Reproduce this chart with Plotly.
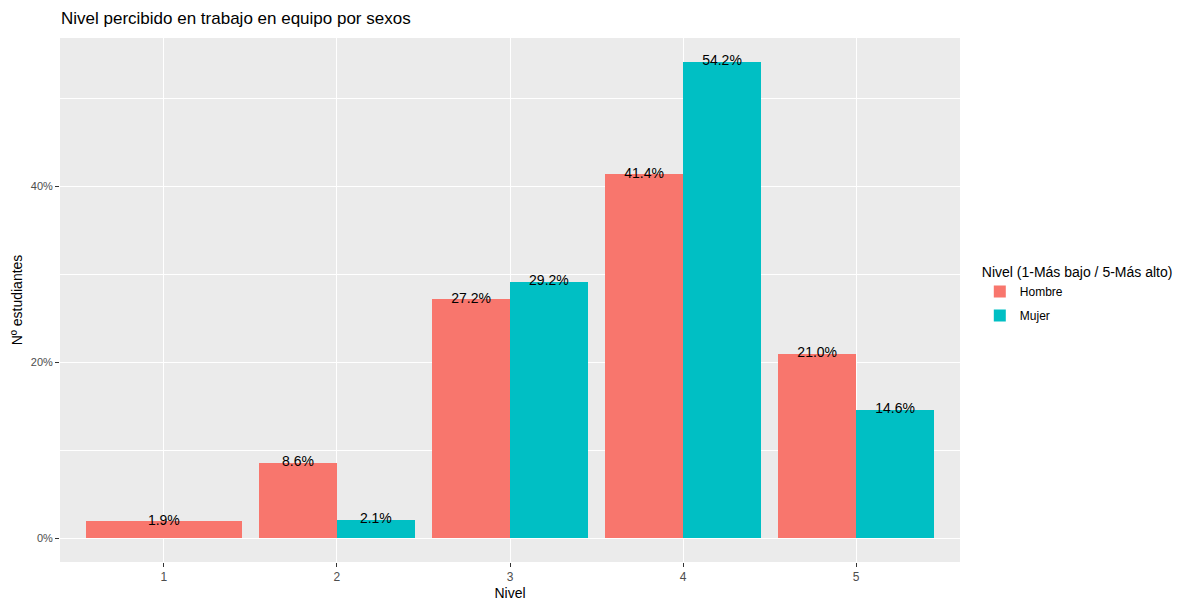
import plotly.graph_objects as go

niveles = [1, 2, 3, 4, 5]
hombre = [1.9, 8.6, 27.2, 41.4, 21.0]
mujer = [None, 2.1, 29.2, 54.2, 14.6]
tick_labels = ["1", "2", "3", "4", "5"]
y_ticks = [0, 20, 40]
y_tick_labels = ["0%", "20%", "40%"]

col_h = "#F8766D"
col_m = "#00BFC4"
FONT = "Liberation Sans, Arial, sans-serif"

# the page body has an 8px default margin; size the figure to fit the window
W, H = 1192, 596

# dodge positions (ggplot-style: single bar occupies full width)
def positions(own, other, side):
    xs, ws = [], []
    for n, a, b in zip(niveles, own, other):
        if b is None:
            xs.append(n); ws.append(0.9)
        else:
            xs.append(n + side * 0.225); ws.append(0.45)
    return xs, ws

xh, wh = positions(hombre, mujer, -1)
xm, wm = positions(mujer, hombre, 1)

fig = go.Figure()
fig.add_trace(go.Bar(x=xh, y=hombre, width=wh, name="Hombre", legendgroup="h",
                     marker=dict(color=col_h, line=dict(width=0))))
fig.add_trace(go.Bar(x=xm, y=mujer, width=wm, name="Mujer", legendgroup="m",
                     marker=dict(color=col_m, line=dict(width=0))))

for xs, vals in ((xh, hombre), (xm, mujer)):
    px = [x for x, v in zip(xs, vals) if v is not None]
    pv = [v for v in vals if v is not None]
    fig.add_trace(go.Scatter(x=px, y=pv, mode="text",
                             text=[f"{v:.1f}%" for v in pv],
                             textposition="middle center",
                             textfont=dict(family=FONT, size=14, color="black"),
                             showlegend=False, hoverinfo="skip"))

fig.update_layout(
    width=W, height=H,
    margin=dict(l=52, r=240, t=30, b=42, autoexpand=False),
    paper_bgcolor="white", plot_bgcolor="#EBEBEB",
    barmode="overlay", bargap=0,
    font=dict(family=FONT),
    title=dict(text="Nivel percibido en trabajo en equipo por sexos",
               x=53/W, xanchor="left", y=1-10/H, yanchor="middle",
               font=dict(size=17, color="black", family=FONT)),
    legend=dict(title=dict(text="Nivel (1-Más bajo / 5-Más alto)",
                           font=dict(size=14, color="black")),
                x=1.022, xanchor="left", y=0.51, yanchor="middle",
                font=dict(size=12, color="black"), bgcolor="white",
                tracegroupgap=5, itemsizing="constant"),
)

fig.update_xaxes(range=[0.4, 5.6], tickvals=niveles, ticktext=tick_labels,
                 automargin=False,
                 showgrid=True, gridcolor="white", gridwidth=1.1, zeroline=False,
                 ticks="outside", ticklen=4, tickcolor="#333333", tickwidth=1,
                 tickfont=dict(size=12, color="#4D4D4D"),
                 title=dict(text="Nivel", font=dict(size=14, color="black"), standoff=4))
fig.update_yaxes(range=[-2.71, 56.91], tickvals=y_ticks, ticktext=y_tick_labels,
                 automargin=False,
                 showgrid=True, gridcolor="white", gridwidth=1.1, zeroline=False,
                 ticks="outside", ticklen=4, tickcolor="#333333", tickwidth=1,
                 tickfont=dict(size=11, color="#4D4D4D"),
                 minor=dict(tickvals=[10, 30, 50], showgrid=True, gridcolor="white",
                            gridwidth=0.5, ticks=""),
                 title=dict(text="Nº estudiantes", font=dict(size=14, color="black"), standoff=4))

fig.write_html("out.html")
